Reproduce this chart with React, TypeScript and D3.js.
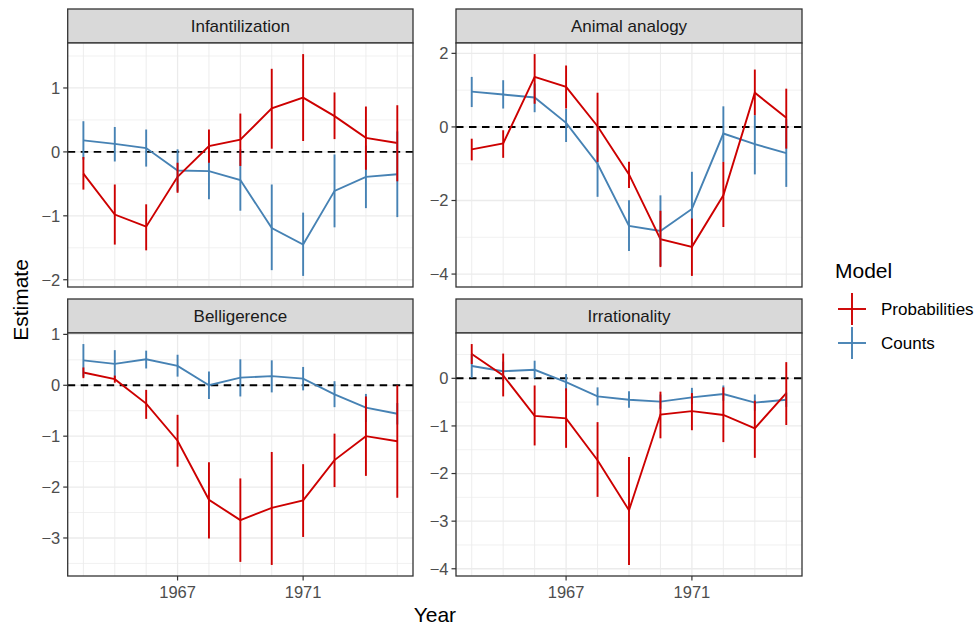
import React from 'react';
import * as d3 from 'd3';

const years = [1964, 1965, 1966, 1967, 1968, 1969, 1970, 1971, 1972, 1973, 1974];
const facetNames = ['Infantilization', 'Animal analogy', 'Belligerence', 'Irrationality'];
const modelNames = ['Probabilities', 'Counts'];
const modelColors = ['#CD0000', '#4682B4'];
const xTickValues = [1967, 1971];

// Infantilization
const infProbEst = [-0.34, -0.98, -1.17, -0.39, 0.09, 0.19, 0.68, 0.85, 0.56, 0.22, 0.14];
const infProbLo = [-0.59, -1.45, -1.54, -0.64, -0.17, -0.22, 0.05, 0.17, 0.2, -0.28, -0.46];
const infProbHi = [-0.08, -0.51, -0.82, -0.17, 0.35, 0.6, 1.3, 1.53, 0.93, 0.71, 0.73];
const infCntEst = [0.18, 0.125, 0.06, -0.29, -0.3, -0.44, -1.19, -1.45, -0.61, -0.39, -0.35];
const infCntLo = [-0.12, -0.15, -0.23, -0.62, -0.74, -0.92, -1.85, -1.94, -1.18, -0.88, -1.02];
const infCntHi = [0.48, 0.39, 0.35, 0.04, 0.14, 0.04, -0.51, -0.95, -0.04, 0.1, 0.32];
const infTicks = [-2, -1, 0, 1];

// Animal analogy
const aniProbEst = [-0.61, -0.45, 1.36, 1.09, 0.02, -1.29, -3.05, -3.26, -1.86, 0.93, 0.25];
const aniProbLo = [-0.91, -0.84, 0.63, 0.5, -0.95, -1.66, -3.81, -4.05, -2.72, 0.32, -0.59];
const aniProbHi = [-0.32, -0.09, 1.98, 1.67, 0.93, -0.95, -2.28, -2.49, -0.95, 1.56, 1.04];
const aniCntEst = [0.96, 0.88, 0.8, 0.11, -1.0, -2.69, -2.83, -2.23, -0.18, -0.47, -0.71];
const aniCntLo = [0.54, 0.5, 0.4, -0.41, -1.9, -3.37, -3.78, -3.24, -0.95, -1.29, -1.63];
const aniCntHi = [1.36, 1.27, 1.18, 0.49, -0.09, -1.99, -1.86, -1.22, 0.56, 0.32, 0.21];
const aniTicks = [-4, -2, 0, 2];

// Belligerence
const belProbEst = [0.25, 0.12, -0.36, -1.09, -2.25, -2.65, -2.41, -2.26, -1.47, -1.0, -1.1];
const belProbLo = [0.14, 0.05, -0.66, -1.6, -3.01, -3.47, -3.53, -2.98, -2.0, -1.78, -2.21];
const belProbHi = [0.35, 0.19, -0.09, -0.58, -1.51, -1.83, -1.31, -1.55, -0.95, -0.22, 0.0];
const belCntEst = [0.49, 0.42, 0.51, 0.38, 0.0, 0.15, 0.18, 0.13, -0.18, -0.44, -0.56];
const belCntLo = [0.17, 0.14, 0.33, 0.17, -0.27, -0.22, -0.14, -0.1, -0.43, -0.72, -0.77];
const belCntHi = [0.81, 0.69, 0.68, 0.6, 0.27, 0.51, 0.49, 0.36, 0.08, -0.17, -0.35];
const belTicks = [-3, -2, -1, 0, 1];

// Irrationality
const irrProbEst = [0.51, 0.06, -0.79, -0.84, -1.72, -2.77, -0.76, -0.69, -0.77, -1.05, -0.31];
const irrProbLo = [0.3, -0.38, -1.41, -1.46, -2.49, -3.92, -1.26, -1.09, -1.34, -1.67, -0.98];
const irrProbHi = [0.72, 0.52, -0.15, -0.21, -0.92, -1.65, -0.28, -0.31, -0.19, -0.47, 0.34];
const irrCntEst = [0.26, 0.15, 0.18, -0.08, -0.38, -0.45, -0.49, -0.4, -0.33, -0.51, -0.45];
const irrCntLo = [0.01, -0.05, 0.0, -0.26, -0.57, -0.62, -0.64, -0.54, -0.47, -0.68, -0.6];
const irrCntHi = [0.51, 0.35, 0.37, 0.09, -0.19, -0.27, -0.34, -0.2, -0.15, -0.34, -0.3];
const irrTicks = [-4, -3, -2, -1, 0];

type Series = { est: number[]; lo: number[]; hi: number[] };
type Facet = { name: string; series: Series[]; ticks: number[] };

const facets: Facet[] = [
  { name: facetNames[0], ticks: infTicks, series: [
    { est: infProbEst, lo: infProbLo, hi: infProbHi },
    { est: infCntEst, lo: infCntLo, hi: infCntHi } ] },
  { name: facetNames[1], ticks: aniTicks, series: [
    { est: aniProbEst, lo: aniProbLo, hi: aniProbHi },
    { est: aniCntEst, lo: aniCntLo, hi: aniCntHi } ] },
  { name: facetNames[2], ticks: belTicks, series: [
    { est: belProbEst, lo: belProbLo, hi: belProbHi },
    { est: belCntEst, lo: belCntLo, hi: belCntHi } ] },
  { name: facetNames[3], ticks: irrTicks, series: [
    { est: irrProbEst, lo: irrProbLo, hi: irrProbHi },
    { est: irrCntEst, lo: irrCntLo, hi: irrCntHi } ] },
];

const W = 980, H = 626;
const cols = [{ x0: 67.7, x1: 413 }, { x0: 456, x1: 802 }];
const rows = [{ stripTop: 9, top: 43, bottom: 287 }, { stripTop: 299, top: 333, bottom: 576 }];
const FONT = '"Liberation Sans", Arial, Helvetica, sans-serif';
const GRID = '#EBEBEB';
const BORDER = '#333333';

function expand(lo: number, hi: number): [number, number] {
  const d = (hi - lo) * 0.05;
  return [lo - d, hi + d];
}

function Panel({ facet, idx }: { facet: Facet; idx: number }) {
  const col = cols[idx % 2];
  const row = rows[Math.floor(idx / 2)];
  const xExt = d3.extent(years) as [number, number];
  const x = d3.scaleLinear().domain(expand(xExt[0], xExt[1])).range([col.x0, col.x1]);
  const allLo = d3.min(facet.series.flatMap((s) => s.lo)) as number;
  const allHi = d3.max(facet.series.flatMap((s) => s.hi)) as number;
  const y = d3.scaleLinear().domain(expand(Math.min(allLo, 0), Math.max(allHi, 0))).range([row.bottom, row.top]);
  const [dLo, dHi] = y.domain();
  const step = facet.ticks[1] - facet.ticks[0];
  const minor: number[] = [];
  for (let v = facet.ticks[0] - step / 2; v <= dHi; v += step) {
    if (v >= dLo) minor.push(v);
  }
  const line = d3.line<number>().x((_, i) => x(years[i])).y((d) => y(d));
  const order = [1, 0];
  return (
    <g>
      {/* strip */}
      <rect x={col.x0} y={row.stripTop} width={col.x1 - col.x0} height={row.top - row.stripTop}
        fill="#D9D9D9" stroke={BORDER} strokeWidth={1.3} />
      <text x={(col.x0 + col.x1) / 2} y={(row.stripTop + row.top) / 2} dy="0.35em" textAnchor="middle"
        fontSize={17} fill="#1A1A1A" fontFamily={FONT}>{facet.name}</text>
      <rect x={col.x0} y={row.top} width={col.x1 - col.x0} height={row.bottom - row.top} fill="white" />
      {/* minor grid */}
      {minor.map((v) => (
        <line key={'mn' + v} x1={col.x0} x2={col.x1} y1={y(v)} y2={y(v)} stroke={GRID} strokeWidth={0.7} />
      ))}
      {years.filter((yr) => !xTickValues.includes(yr)).map((yr) => (
        <line key={'mv' + yr} x1={x(yr)} x2={x(yr)} y1={row.top} y2={row.bottom} stroke={GRID} strokeWidth={0.9} />
      ))}
      {/* major grid */}
      {facet.ticks.map((v) => (
        <line key={'mj' + v} x1={col.x0} x2={col.x1} y1={y(v)} y2={y(v)} stroke={GRID} strokeWidth={1.3} />
      ))}
      {xTickValues.map((v) => (
        <line key={'xv' + v} x1={x(v)} x2={x(v)} y1={row.top} y2={row.bottom} stroke={GRID} strokeWidth={1.3} />
      ))}
      {/* zero line */}
      <line x1={col.x0} x2={col.x1} y1={y(0)} y2={y(0)} stroke="black" strokeWidth={1.9} strokeDasharray="7.5,5.5" />
      {/* data */}
      {order.map((m) => (
        <path key={'l' + m} d={line(facet.series[m].est) || ''} fill="none" stroke={modelColors[m]} strokeWidth={1.9} />
      ))}
      {order.map((m) => (
        <g key={'e' + m}>
          {years.map((yr, i) => (
            <line key={yr} x1={x(yr)} x2={x(yr)} y1={y(facet.series[m].lo[i])} y2={y(facet.series[m].hi[i])}
              stroke={modelColors[m]} strokeWidth={1.9} />
          ))}
        </g>
      ))}
      {/* border */}
      <rect x={col.x0} y={row.top} width={col.x1 - col.x0} height={row.bottom - row.top} fill="none"
        stroke={BORDER} strokeWidth={1.3} />
      {/* y axis */}
      {facet.ticks.map((v) => (
        <g key={'yt' + v}>
          <line x1={col.x0 - 4.5} x2={col.x0} y1={y(v)} y2={y(v)} stroke={BORDER} strokeWidth={1.2} />
          <text x={col.x0 - 7.5} y={y(v)} dy="0.35em" textAnchor="end" fontSize={16.5} fill="#4D4D4D"
            fontFamily={FONT}>{d3.format('')(v).replace('-', '\u2212')}</text>
        </g>
      ))}
      {/* x axis (bottom row only) */}
      {idx >= 2 && xTickValues.map((v) => (
        <g key={'xt' + v}>
          <line x1={x(v)} x2={x(v)} y1={row.bottom} y2={row.bottom + 4.5} stroke={BORDER} strokeWidth={1.2} />
          <text x={x(v)} y={row.bottom + 22} textAnchor="middle" fontSize={16.5} fill="#4D4D4D"
            fontFamily={FONT}>{v}</text>
        </g>
      ))}
    </g>
  );
}

export default function App() {
  const legendY = [309, 343];
  return (
    <svg width={W} height={H} viewBox={`0 0 ${W} ${H}`}
      style={{ position: 'absolute', left: 0, top: 0, background: 'white' }}>
      <rect x={0} y={0} width={W} height={H} fill="white" />
      {facets.map((f, i) => <Panel key={f.name} facet={f} idx={i} />)}
      <text x={(cols[0].x0 + cols[1].x1) / 2} y={622} textAnchor="middle" fontSize={21} fill="black"
        fontFamily={FONT}>Year</text>
      <text transform="translate(28,300) rotate(-90)" textAnchor="middle" fontSize={21} fill="black"
        fontFamily={FONT}>Estimate</text>
      {/* legend */}
      <text x={835} y={278} fontSize={21} fill="black" fontFamily={FONT}>Model</text>
      {modelNames.map((n, i) => (
        <g key={n}>
          <line x1={838} x2={866} y1={legendY[i]} y2={legendY[i]} stroke={modelColors[i]} strokeWidth={1.9} />
          <line x1={852} x2={852} y1={legendY[i] - 16} y2={legendY[i] + 16} stroke={modelColors[i]} strokeWidth={1.9} />
          <text x={881} y={legendY[i]} dy="0.35em" fontSize={17} fill="black" fontFamily={FONT}>{n}</text>
        </g>
      ))}
    </svg>
  );
}
